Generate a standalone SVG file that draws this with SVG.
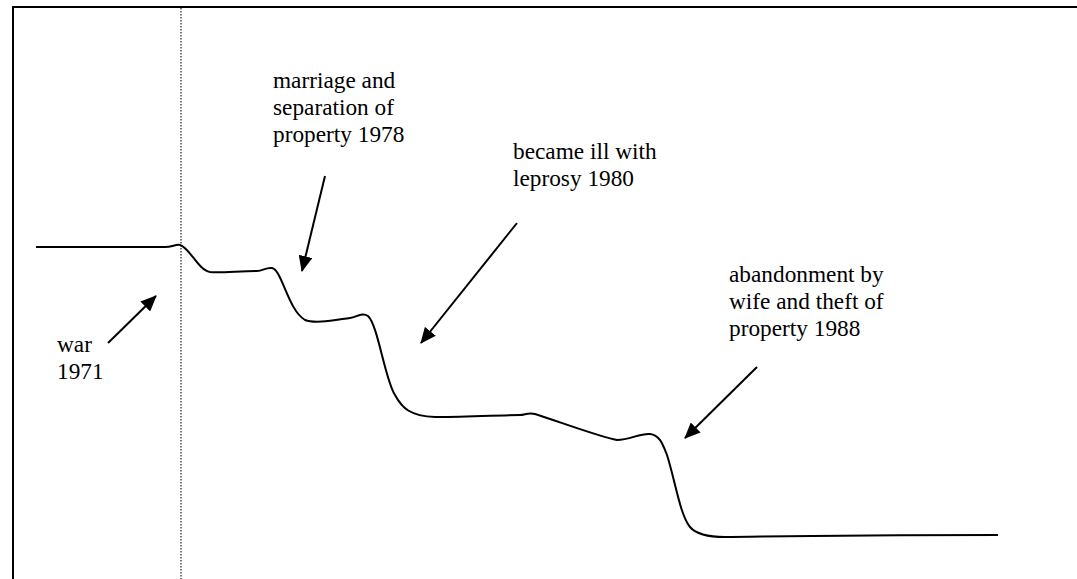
<svg xmlns="http://www.w3.org/2000/svg" width="1077" height="579" viewBox="0 0 1077 579">
<defs>
<style>
.lbl{font-family:"Liberation Serif","Times New Roman",serif;font-size:23.3px;fill:#000}
.arr{stroke:#000;stroke-width:2;fill:none;marker-end:url(#ah)}
.curve{stroke:#000;stroke-width:2;fill:none}
</style>
<marker id="ah" markerUnits="userSpaceOnUse" markerWidth="16" markerHeight="14" refX="15" refY="7" orient="auto" viewBox="0 0 16 14">
<path d="M0,0 L16,7 L0,14 z" fill="#000"/>
</marker>
</defs>
<rect width="1077" height="579" fill="#fff"/>
<g id="frame">
<line x1="12.5" y1="7" x2="1077" y2="7" stroke="#000" stroke-width="2"/>
<line x1="13" y1="6" x2="13" y2="579" stroke="#000" stroke-width="2"/>
<line x1="181" y1="8" x2="181" y2="579" stroke="#333" stroke-width="1.3" stroke-dasharray="1.5 1.5"/>
</g>
<g id="curve">
<path class="curve" d="M36,247 L165,247 C172,247 176,244 180,245 C190,248 198,270 210,272 C220,273 240,271 257,271 C263,271 266,267 272,268 C282,270 288,310 305,320 C315,324 335,320 350,318 C357,317 362,312 368,316 C378,325 385,380 395,395 C402,408 410,416 435,417 C460,417 500,415 520,415 C525,415 528,412 535,414 C560,422 600,437 617,440 C630,440 640,433 650,434 C660,435 663,445 667,455 C675,480 680,515 690,527 C695,533 705,537 725,537 C760,537 800,535 998,535"/>
</g>
<g id="connectors">
<line class="arr" x1="108" y1="343" x2="156" y2="296"/>
<line class="arr" x1="325" y1="176" x2="302" y2="271"/>
<line class="arr" x1="517" y1="223" x2="421" y2="343"/>
<line class="arr" x1="757" y1="367" x2="685" y2="438"/>
</g>
<g id="war">
<text class="lbl" x="57" y="352">war</text>
<text class="lbl" x="57" y="379">1971</text>
</g>
<g id="marriage">
<text class="lbl" x="273" y="88">marriage and</text>
<text class="lbl" x="273" y="115">separation of</text>
<text class="lbl" x="273" y="142">property 1978</text>
</g>
<g id="leprosy">
<text class="lbl" x="513" y="159">became ill with</text>
<text class="lbl" x="513" y="186">leprosy 1980</text>
</g>
<g id="abandonment">
<text class="lbl" x="729" y="282">abandonment by</text>
<text class="lbl" x="729" y="309">wife and theft of</text>
<text class="lbl" x="729" y="336">property 1988</text>
</g>
</svg>
